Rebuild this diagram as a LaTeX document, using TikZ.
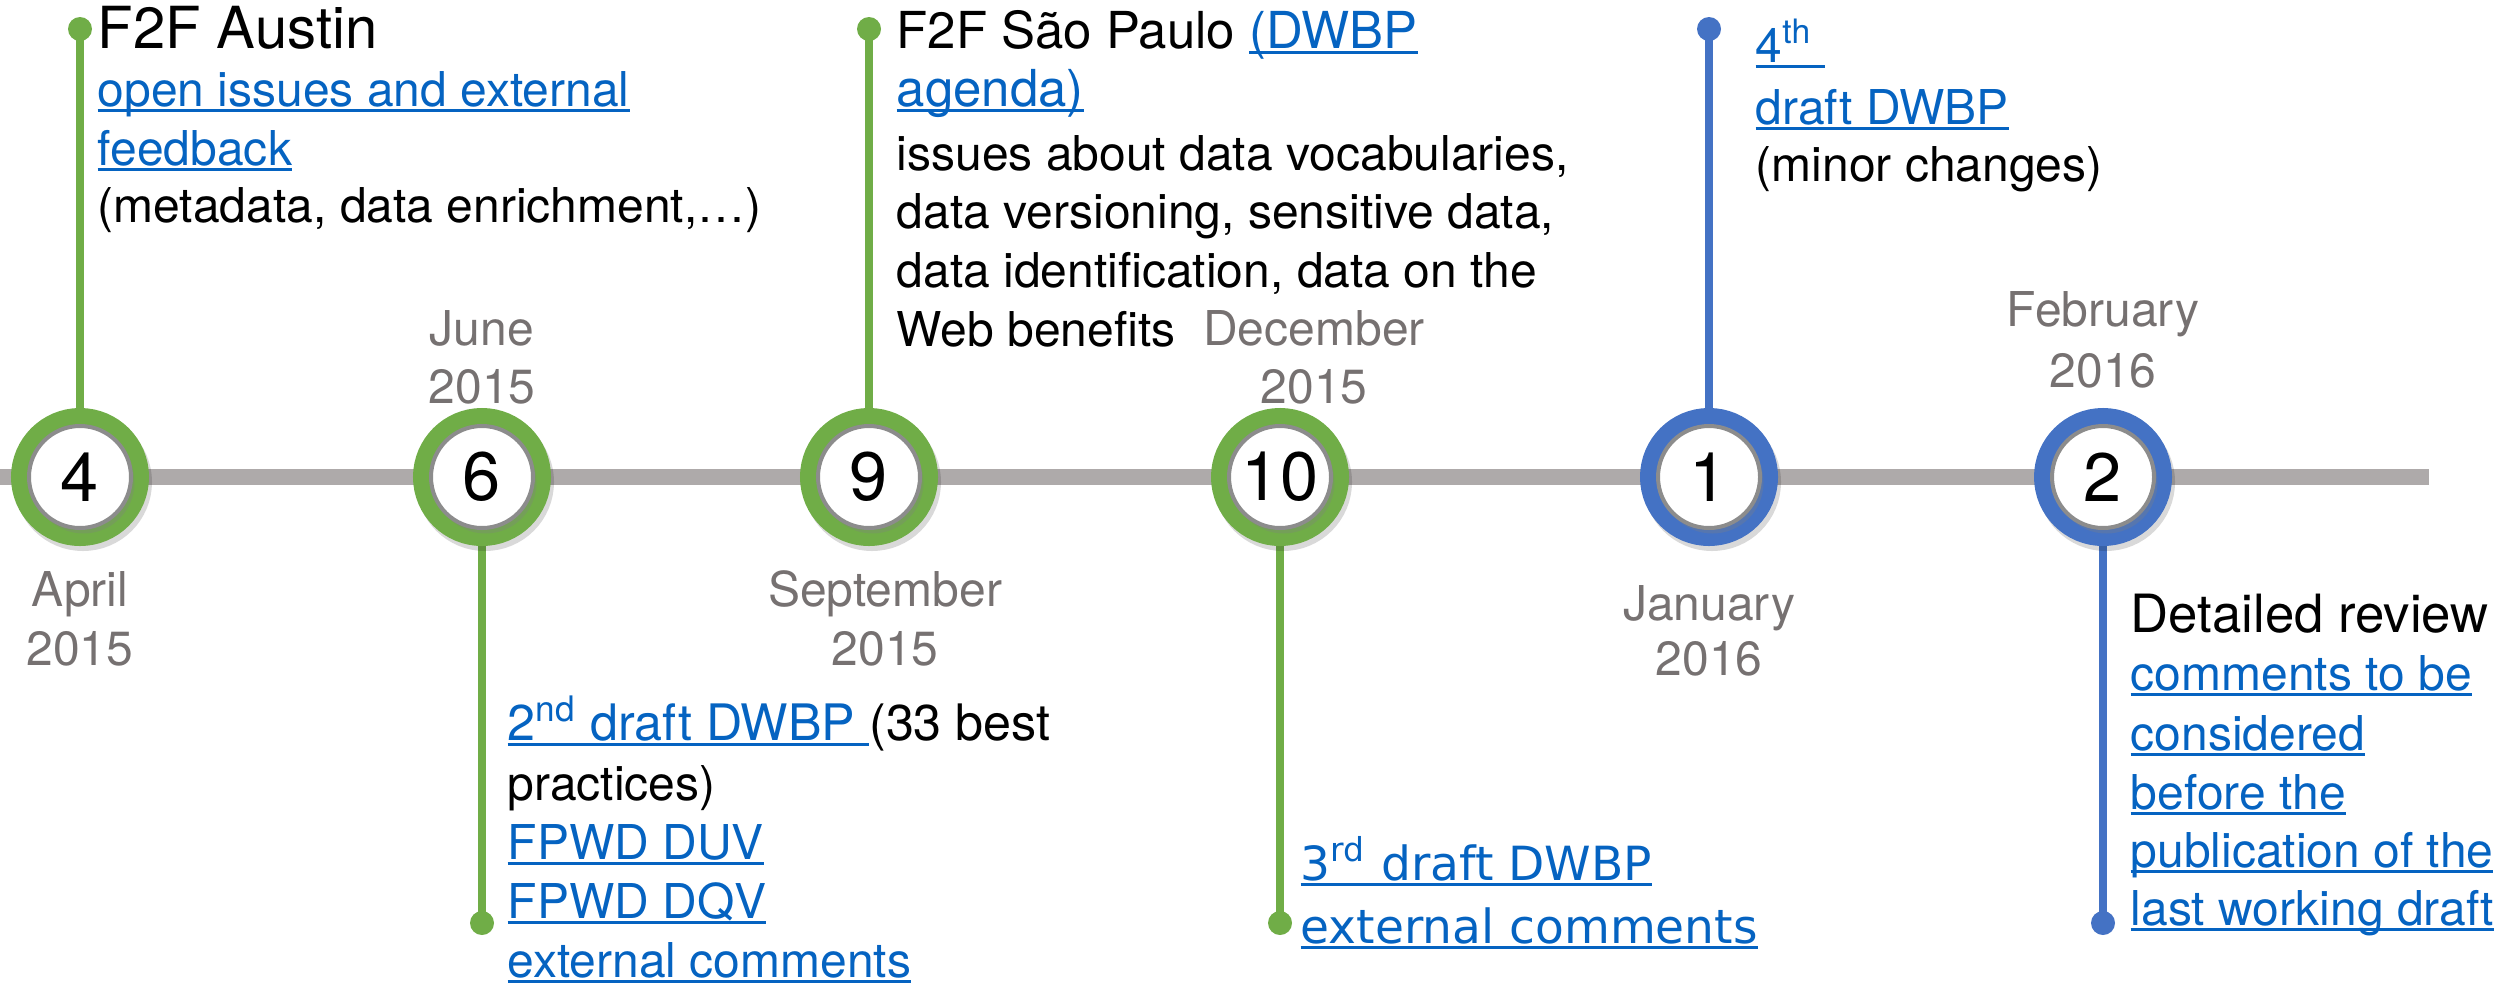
\documentclass[tikz,border=0pt]{standalone}
\usepackage{fontspec}
\setmainfont{TeX Gyre Heros}
\newfontfamily\dvs{DejaVu Sans}
\usetikzlibrary{shadows}
\pgfdeclarelayer{bg}
\pgfsetlayers{bg,main}
\definecolor{ringgreen}{HTML}{70AD47}
\definecolor{ringblue}{HTML}{4472C4}
\definecolor{tlgray}{HTML}{AEAAAA}
\definecolor{dategray}{HTML}{767171}
\definecolor{linkblue}{HTML}{0563C1}
\definecolor{circgray}{HTML}{8C8C8C}
\newcommand\lk[1]{{\color{linkblue}\setbox0=\hbox{#1}\rlap{\rule[-1.7pt]{\wd0}{0.8pt}}\box0}}
\begin{document}
\begin{tikzpicture}[x=0.1mm, y=-0.1mm,
  body/.style={anchor=base west, inner sep=0, font=\fontsize{13.66}{16}\selectfont},
  head/.style={anchor=base west, inner sep=0, font=\fontsize{15}{18}\selectfont},
  datelbl/.style={anchor=base, inner sep=0, text=dategray, font=\fontsize{13.66}{16}\selectfont},
  ms/.style={circle, minimum size=10.2mm, inner sep=0, fill=white, draw=circgray,
    line width=0.4mm, font=\fontsize{19.5}{22}\selectfont,
    general shadow={draw=black, line width=3.6mm, opacity=0.15, shadow xshift=0.3mm, shadow yshift=-0.5mm},
    preaction={draw=#1, line width=3.6mm},
    drop shadow={shadow xshift=0.35mm, shadow yshift=-0.55mm, opacity=0.3}},
  msdot/.style={circle, fill=#1, minimum size=2.4mm, inner sep=0},
  stemline/.style={draw=#1, line width=0.8mm},
  timeline/.style={draw=tlgray, line width=1.6mm}]
\useasboundingbox (0,0) rectangle (2501,983);

% milestones
\node[ms=ringgreen] (c4) at (80,477) {4};
\node[ms=ringgreen] (c6) at (482,477) {6};
\node[ms=ringgreen] (c9) at (869,477) {9};
\node[ms=ringgreen] (c10) at (1280,477) {10};
\node[ms=ringblue] (c1) at (1709,477) {1};
\node[ms=ringblue] (c2) at (2103,477) {2};

% dots
\node[msdot=ringgreen] (d4) at (80,29) {};
\node[msdot=ringgreen] (d6) at (482,923) {};
\node[msdot=ringgreen] (d9) at (869,29) {};
\node[msdot=ringgreen] (d10) at (1280,923) {};
\node[msdot=ringblue] (d1) at (1709,29) {};
\node[msdot=ringblue] (d2) at (2103,923) {};

\coordinate (tlA) at (0,477);
\coordinate (tlB) at (2429,477);

\begin{pgfonlayer}{bg}
\draw[timeline] (tlA) -- (tlB);
\draw[stemline=ringgreen] (c4.center) -- (d4.center);
\draw[stemline=ringgreen] (c6.center) -- (d6.center);
\draw[stemline=ringgreen] (c9.center) -- (d9.center);
\draw[stemline=ringgreen] (c10.center) -- (d10.center);
\draw[stemline=ringblue] (c1.center) -- (d1.center);
\draw[stemline=ringblue] (c2.center) -- (d2.center);
\end{pgfonlayer}

% date labels
\node[datelbl] (m4a) at (80,606) {April};
\node[datelbl] (m4b) at (80,665) {2015};
\node[datelbl] (m6a) at (482,345) {June};
\node[datelbl] (m6b) at (482,403) {2015};
\node[datelbl] (m9a) at (885,606) {September};
\node[datelbl] (m9b) at (885,665) {2015};
\node[datelbl] (m10a) at (1314,345) {December};
\node[datelbl] (m10b) at (1314,403) {2015};
\node[datelbl] (m1a) at (1709,620) {January};
\node[datelbl] (m1b) at (1709,675) {2016};
\node[datelbl] (m2a) at (2103,326) {February};
\node[datelbl] (m2b) at (2103,387) {2016};

% April block
\node[head, font=\fontsize{16.5}{18}\selectfont] (t4a) at (97,48) {F2F Austin};
\node[body] (t4b) at (97,106) {\lk{open issues and external}};
\node[body] (t4c) at (97,165) {\lk{feedback}};
\node[body] (t4d) at (97,222) {(metadata, data enrichment,…)};

% June block
\node[body, font=\fontsize{14.3}{16}\selectfont] (t6a) at (507,740) {\lk{2\textsuperscript{nd} draft DWBP\ }(33 best};
\node[body] (t6b) at (507,800) {practices)};
\node[body] (t6c) at (507,859) {\lk{FPWD DUV}};
\node[body] (t6d) at (507,918) {\lk{FPWD DQV}};
\node[body] (t6e) at (507,977) {\lk{external comments}};

% September block
\node[head, font=\fontsize{14.5}{18}\selectfont] (t9a) at (896,48) {F2F São Paulo \lk{(DWBP}};
\node[body, font=\fontsize{14.5}{18}\selectfont] (t9b) at (896,106) {\lk{agenda)}};
\node[body] (t9c) at (896,170) {issues about data vocabularies,};
\node[body] (t9d) at (896,228) {data versioning, sensitive data,};
\node[body] (t9e) at (896,287) {data identification, data on the};
\node[body] (t9f) at (896,346) {Web benefits};

% December block
\node[body, font=\dvs\fontsize{13.4}{16}\selectfont] (t10a) at (1300,880) {\lk{3\textsuperscript{rd} draft DWBP}};
\node[body, font=\dvs\fontsize{13.4}{16}\selectfont] (t10b) at (1300,943) {\lk{external comments}};

% January block
\node[body] (t1a) at (1755,62) {\lk{4\textsuperscript{th}\ }};
\node[body] (t1b) at (1755,124) {\lk{draft DWBP}};
\node[body] (t1c) at (1755,181) {(minor changes)};

% February block
\node[head] (t2a) at (2130,632) {Detailed review};
\node[body] (t2b) at (2130,690) {\lk{comments to be}};
\node[body] (t2c) at (2130,750) {\lk{considered}};
\node[body] (t2d) at (2130,809) {\lk{before the}};
\node[body] (t2e) at (2130,867) {\lk{publication of the}};
\node[body] (t2f) at (2130,925) {\lk{last working draft}};
\end{tikzpicture}
\end{document}
